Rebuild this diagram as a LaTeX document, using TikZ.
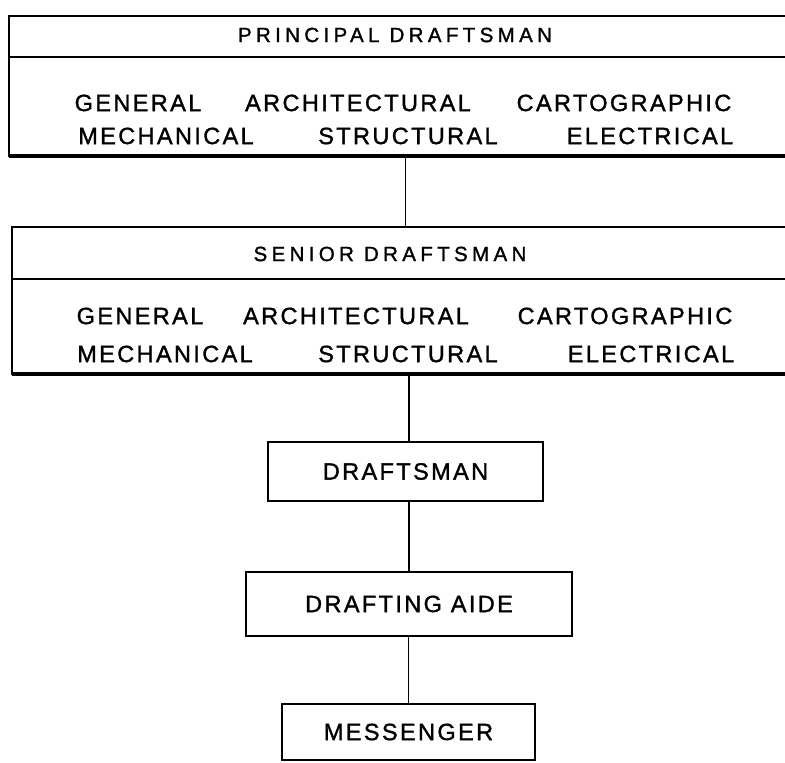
\documentclass[tikz,border=0pt]{standalone}
\usepackage{fontspec}
\usetikzlibrary{positioning}
\newfontfamily\chartfont[LetterSpace=10, FakeBold=1.3]{Liberation Sans}
\newfontfamily\headfont[LetterSpace=21, FakeBold=1.3]{Liberation Sans}

\tikzset{
  grade/.style={font=\headfont\fontsize{11.7}{14}\selectfont, inner sep=0pt},
  specialty/.style={font=\chartfont\fontsize{13.4}{16}\selectfont, inner sep=0pt},
  headbox/.style={draw, line width=1.2pt, anchor=north west, inner sep=0pt, outer sep=0pt},
  rankbox/.style={draw, line width=1.6pt, inner sep=0pt, font=\chartfont\fontsize{13.4}{16}\selectfont},
}

\begin{document}
\begin{tikzpicture}[x=0.02cm, y=-0.02cm]
        \useasboundingbox (0,0) rectangle (785,763);
        \clip (0,0) rectangle (785,763);

        % Principal draftsman
        \node[headbox, minimum width=15.66cm, minimum height=0.82cm] (ptitle) at (9,16) {};
        \node[headbox, minimum width=15.66cm, minimum height=1.98cm] (pbody) at (ptitle.south west) {};
        \draw[line width=2.4pt] (pbody.south west) -- (pbody.south east);
        \node[grade] (pname) at (395,35) {PRINCIPAL DRAFTSMAN};
        \node[specialty] (pgen) at (138,103) {GENERAL};
        \node[specialty] (parch) at (358,103) {ARCHITECTURAL};
        \node[specialty] (pcart) at (624,103) {CARTOGRAPHIC};
        \node[specialty] (pmech) at (166,136) {MECHANICAL};
        \node[specialty] (pstruc) at (408,136) {STRUCTURAL};
        \node[specialty] (pelec) at (650,136) {ELECTRICAL};

        % Senior draftsman
        \node[headbox, minimum width=15.6cm, minimum height=1.04cm] (stitle) at (12,227) {};
        \node[headbox, minimum width=15.6cm, minimum height=1.9cm] (sbody) at (stitle.south west) {};
        \draw[line width=2.4pt] (sbody.south west) -- (sbody.south east);
        \node[grade] (sname) at (390,254) {SENIOR DRAFTSMAN};
        \node[specialty] (sgen) at (140,316) {GENERAL};
        \node[specialty] (sarch) at (356,316) {ARCHITECTURAL};
        \node[specialty] (scart) at (625,316) {CARTOGRAPHIC};
        \node[specialty] (smech) at (165,354) {MECHANICAL};
        \node[specialty] (sstruc) at (408,354) {STRUCTURAL};
        \node[specialty] (selec) at (651,354) {ELECTRICAL};

        % Lower grades
        \node[rankbox, minimum width=5.5cm, minimum height=1.18cm] (draftsman) at (405.5,471.5) {DRAFTSMAN};
        \node[rankbox, minimum width=6.52cm, minimum height=1.28cm] (aide) at (409,604) {DRAFTING AIDE};
        \node[rankbox, minimum width=5.06cm, minimum height=1.12cm] (messenger) at (408.5,732) {MESSENGER};

        % Lines of promotion
        \draw[line width=1.1pt] (pbody.south -| draftsman.north) -- (stitle.north -| draftsman.north);
        \draw[line width=1.1pt] (aide.north |- sbody.south) -- (aide.north |- draftsman.north);
        \draw[line width=1.1pt] (draftsman.south -| aide.north) -- (aide.north);
        \draw[line width=1.1pt] (aide.south -| messenger.north) -- (messenger.north);

\end{tikzpicture}
\end{document}
